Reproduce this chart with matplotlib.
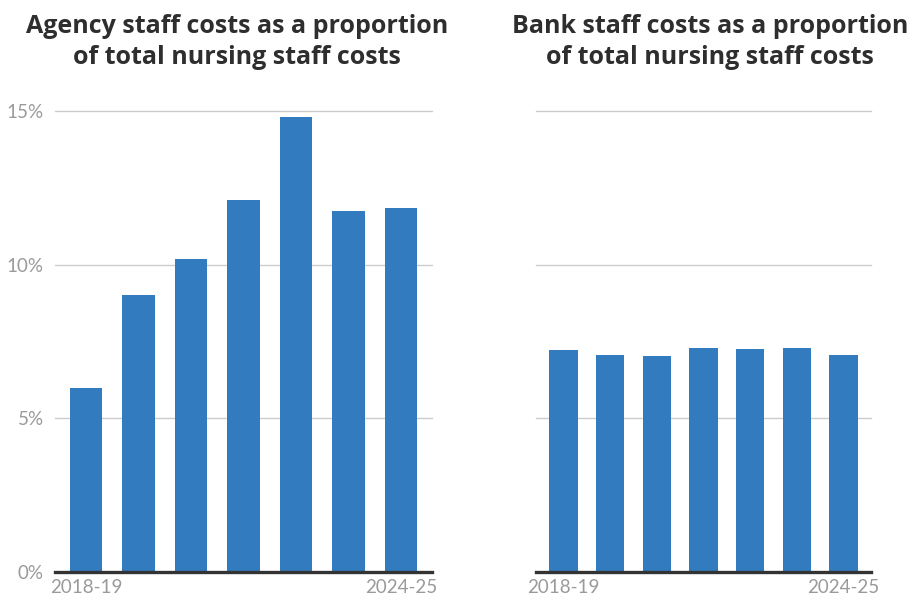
import matplotlib
matplotlib.use("Agg")
import matplotlib.pyplot as plt

years = ["2018-19", "2019-20", "2020-21", "2021-22", "2022-23", "2023-24", "2024-25"]
agency_pct = [6.0, 9.0, 10.2, 12.1, 14.8, 11.75, 11.85]
bank_pct = [7.22, 7.06, 7.03, 7.29, 7.26, 7.29, 7.06]
y_ticks = [0, 5, 10, 15]
y_tick_labels = ["0%", "5%", "10%", "15%"]
titles = ["Agency staff costs as a proportion\nof total nursing staff costs",
          "Bank staff costs as a proportion\nof total nursing staff costs"]

BAR = "#337bbf"
GRID = "#cccccc"
AXIS = "#333333"
TICK = "#9a9a9a"
TITLE = "#2e2e2e"
FONT = "Lato"
TITLE_FONT = "Open Sans"

W, H = 913, 604
fig = plt.figure(figsize=(W / 100, H / 100), dpi=100)


def frac_box(x0, x1, ytop, ybot):
    return [x0 / W, (H - ybot) / H, (x1 - x0) / W, (ybot - ytop) / H]


panels = [
    (frac_box(55, 432, 111, 572), agency_pct, True, titles[0], 237),
    (frac_box(536, 871, 111, 572), bank_pct, False, titles[1], 710),
]

for box, values, show_y, title, title_x in panels:
    ax = fig.add_axes(box)
    x = list(range(len(values)))
    ax.bar(x, values, width=0.61, color=BAR, zorder=3)
    ax.set_xlim(-0.59, len(values) - 1 + 0.59)
    ax.set_ylim(0, 15)
    for t in y_ticks[1:]:
        ax.axhline(t, color=GRID, lw=1.0, zorder=1, clip_on=False)
    ax.axhline(0, color=AXIS, lw=2.4, zorder=4, clip_on=False)
    for s in ax.spines.values():
        s.set_visible(False)
    ax.set_xticks([0, len(values) - 1])
    ax.set_xticklabels([years[0], years[-1]], fontsize=13.5, color=TICK,
                       family=FONT)
    ax.tick_params(axis="x", length=0, pad=5)
    if show_y:
        ax.set_yticks(y_ticks)
        ax.set_yticklabels(y_tick_labels, fontsize=13.5, color=TICK,
                           family=FONT)
        ax.tick_params(axis="y", length=0, pad=8)
    else:
        ax.set_yticks([])
    fig.text(title_x / W, 1 - 42 / H, title, ha="center", va="center",
             fontsize=18, fontweight="bold", color=TITLE, family=TITLE_FONT,
             linespacing=1.28)

fig.savefig("out.png", dpi=100, facecolor="white")
